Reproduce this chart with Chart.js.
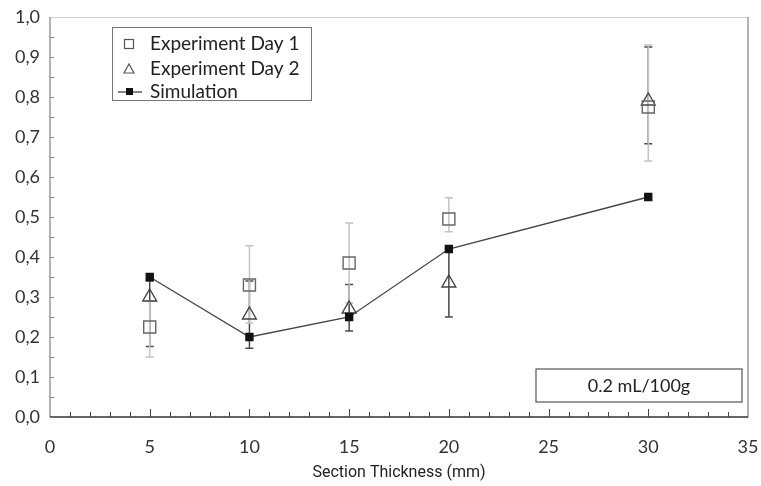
<!DOCTYPE html>
<html>
<head>
<meta charset="utf-8">
<script src="https://cdn.jsdelivr.net/npm/chart.js@4.4.0/dist/chart.umd.min.js"></script>
<style>
  html, body { margin: 0; padding: 0; background: #fff; }
  #wrap { width: 761px; height: 486px; }
</style>
</head>
<body>
<div id="wrap"><canvas id="thickChart" width="761" height="486"></canvas></div>
<script>
// values
let thickness = [5, 10, 15, 20, 30]
let day1 = [0.225, 0.33, 0.385, 0.495, 0.775]
let day1Low = [0.15, 0.235, 0.285, 0.463, 0.64]
let day1High = [0.29, 0.428, 0.485, 0.548, 0.93]
let day2 = [0.30, 0.255, 0.27, 0.335, 0.79]
let day2Low = [0.176, 0.172, 0.215, 0.25, 0.683]
let day2High = [0.34, 0.34, 0.331, 0.42, 0.925]
let simulation = [0.35, 0.20, 0.25, 0.42, 0.55]
let yTickLabels = ['0,0','0,1','0,2','0,3','0,4','0,5','0,6','0,7','0,8','0,9','1,0']
let xTickLabels = ['0','5','10','15','20','25','30','35']
let legendLabels = ['Experiment Day 1', 'Experiment Day 2', 'Simulation']
let noteText = '0.2 mL/100g'

let pts = (ys) => thickness.map((x, i) => ({x: x, y: ys[i]}))

// error bars, drawn through the chart scales
let errorBars = {
  id: 'errorBars',
  beforeDatasetsDraw(chart) {
    let ctx = chart.ctx, xs = chart.scales.x, ys = chart.scales.y
    let bars = [[day2Low, day2High, '#4a4a4a'], [day1Low, day1High, '#c4c4c4']]
    ctx.save()
    bars.forEach(([lo, hi, col]) => {
      ctx.strokeStyle = col
      ctx.lineWidth = 1.5
      thickness.forEach((t, i) => {
        let px = xs.getPixelForValue(t)
        let a = ys.getPixelForValue(lo[i]), b = ys.getPixelForValue(hi[i])
        ctx.beginPath()
        ctx.moveTo(px, a); ctx.lineTo(px, b)
        ctx.moveTo(px - 4, a); ctx.lineTo(px + 4, a)
        ctx.moveTo(px - 4, b); ctx.lineTo(px + 4, b)
        ctx.stroke()
      })
    })
    ctx.restore()
  }
}

// frame, inward ticks, legend box and note box
let frame = {
  id: 'frame',
  afterDraw(chart) {
    let ctx = chart.ctx, a = chart.chartArea, xs = chart.scales.x, ys = chart.scales.y
    ctx.save()
    ctx.lineWidth = 1
    ctx.strokeStyle = '#d0d0d0'
    ctx.beginPath(); ctx.moveTo(a.left, a.top + 0.5); ctx.lineTo(a.right, a.top + 0.5); ctx.stroke()
    ctx.strokeStyle = '#9a9a9a'
    ctx.lineWidth = 1.5
    ctx.beginPath(); ctx.moveTo(a.right, a.top); ctx.lineTo(a.right, a.bottom); ctx.stroke()
    ctx.beginPath(); ctx.moveTo(a.left, a.top); ctx.lineTo(a.left, a.bottom); ctx.stroke()
    ctx.strokeStyle = '#333'
    ctx.beginPath(); ctx.moveTo(a.left, a.bottom); ctx.lineTo(a.right, a.bottom); ctx.stroke()

    ctx.lineWidth = 1
    ctx.strokeStyle = '#444'
    for (let v = 1; v < 35; v++) {
      let px = Math.round(xs.getPixelForValue(v)) + 0.5
      let len = v % 5 === 0 ? 8 : 5
      ctx.beginPath(); ctx.moveTo(px, a.bottom); ctx.lineTo(px, a.bottom - len); ctx.stroke()
    }
    ctx.strokeStyle = '#888'
    for (let k = 1; k < 20; k++) {
      let py = Math.round(ys.getPixelForValue(k * 0.05)) + 0.5
      ctx.beginPath(); ctx.moveTo(a.left, py); ctx.lineTo(a.left + 4, py); ctx.stroke()
    }

    // legend
    ctx.strokeStyle = '#777'
    ctx.strokeRect(112.5, 27.5, 199, 73)
    ctx.font = '19px Lato'
    ctx.fillStyle = '#222'
    ctx.textBaseline = 'middle'
    let rows = [44, 69, 92]
    legendLabels.forEach((t, i) => ctx.fillText(t, 150, rows[i]))
    ctx.strokeStyle = '#555'
    ctx.lineWidth = 1.2
    ctx.strokeRect(124.5, 39.5, 9, 9)
    ctx.beginPath(); ctx.moveTo(129, 64); ctx.lineTo(134, 73); ctx.lineTo(124, 73); ctx.closePath(); ctx.stroke()
    ctx.strokeStyle = '#333'
    ctx.beginPath(); ctx.moveTo(118, 92); ctx.lineTo(142, 92); ctx.stroke()
    ctx.fillStyle = '#111'
    ctx.fillRect(126, 88, 7, 7)

    // note box
    ctx.strokeStyle = '#555'
    ctx.lineWidth = 1.2
    ctx.strokeRect(a.right - 212, a.bottom - 48, 206, 33)
    ctx.fillStyle = '#222'
    ctx.font = '18px Lato'
    ctx.textAlign = 'center'
    ctx.fillText(noteText, a.right - 109, a.bottom - 31)
    ctx.restore()
  }
}

let thickChart = new Chart(document.getElementById('thickChart').getContext('2d'), {
  type: 'scatter',
  data: {
    datasets: [
      {
        label: legendLabels[2],
        data: pts(simulation),
        showLine: true,
        borderColor: '#444',
        borderWidth: 1.3,
        pointStyle: 'rect',
        pointRadius: 5,
        backgroundColor: '#111',
        pointBorderColor: '#111',
        order: 1
      },
      {
        label: legendLabels[0],
        data: pts(day1),
        pointStyle: 'rect',
        pointRadius: 8.5,
        pointBorderWidth: 1.4,
        pointBorderColor: '#666',
        backgroundColor: 'rgba(255,255,255,0)',
        order: 2
      },
      {
        label: legendLabels[1],
        data: pts(day2),
        pointStyle: 'triangle',
        pointRadius: 8,
        pointBorderWidth: 1.4,
        pointBorderColor: '#444',
        backgroundColor: 'rgba(255,255,255,0)',
        order: 3
      }
    ]
  },
  options: {
    responsive: false,
    animation: false,
    layout: { padding: { top: 17, right: 13, left: 0, bottom: 0 } },
    plugins: { legend: { display: false }, tooltip: { enabled: false } },
    scales: {
      x: {
        type: 'linear',
        min: 0, max: 35,
        afterFit: s => { s.height = 69; s.paddingLeft = 0; s.paddingRight = 0 },
        grid: { display: false, drawTicks: false },
        border: { display: false },
        ticks: {
          stepSize: 5,
          padding: 19,
          color: '#333',
          font: { family: 'Lato', size: 18 },
          callback: (v, i) => xTickLabels[i]
        },
        title: {
          display: true,
          text: 'Section Thickness (mm)',
          color: '#222',
          font: { family: 'Roboto', size: 16 },
          padding: { top: 0, bottom: 3 }
        }
      },
      y: {
        min: 0, max: 1,
        afterFit: s => { s.width = 50; s.paddingTop = 0; s.paddingBottom = 0 },
        grid: { display: false, drawTicks: false },
        border: { display: false },
        ticks: {
          stepSize: 0.1,
          padding: 10,
          color: '#333',
          font: { family: 'Lato', size: 18 },
          callback: (v, i) => yTickLabels[i]
        }
      }
    }
  },
  plugins: [errorBars, frame]
})
</script>
</body>
</html>
